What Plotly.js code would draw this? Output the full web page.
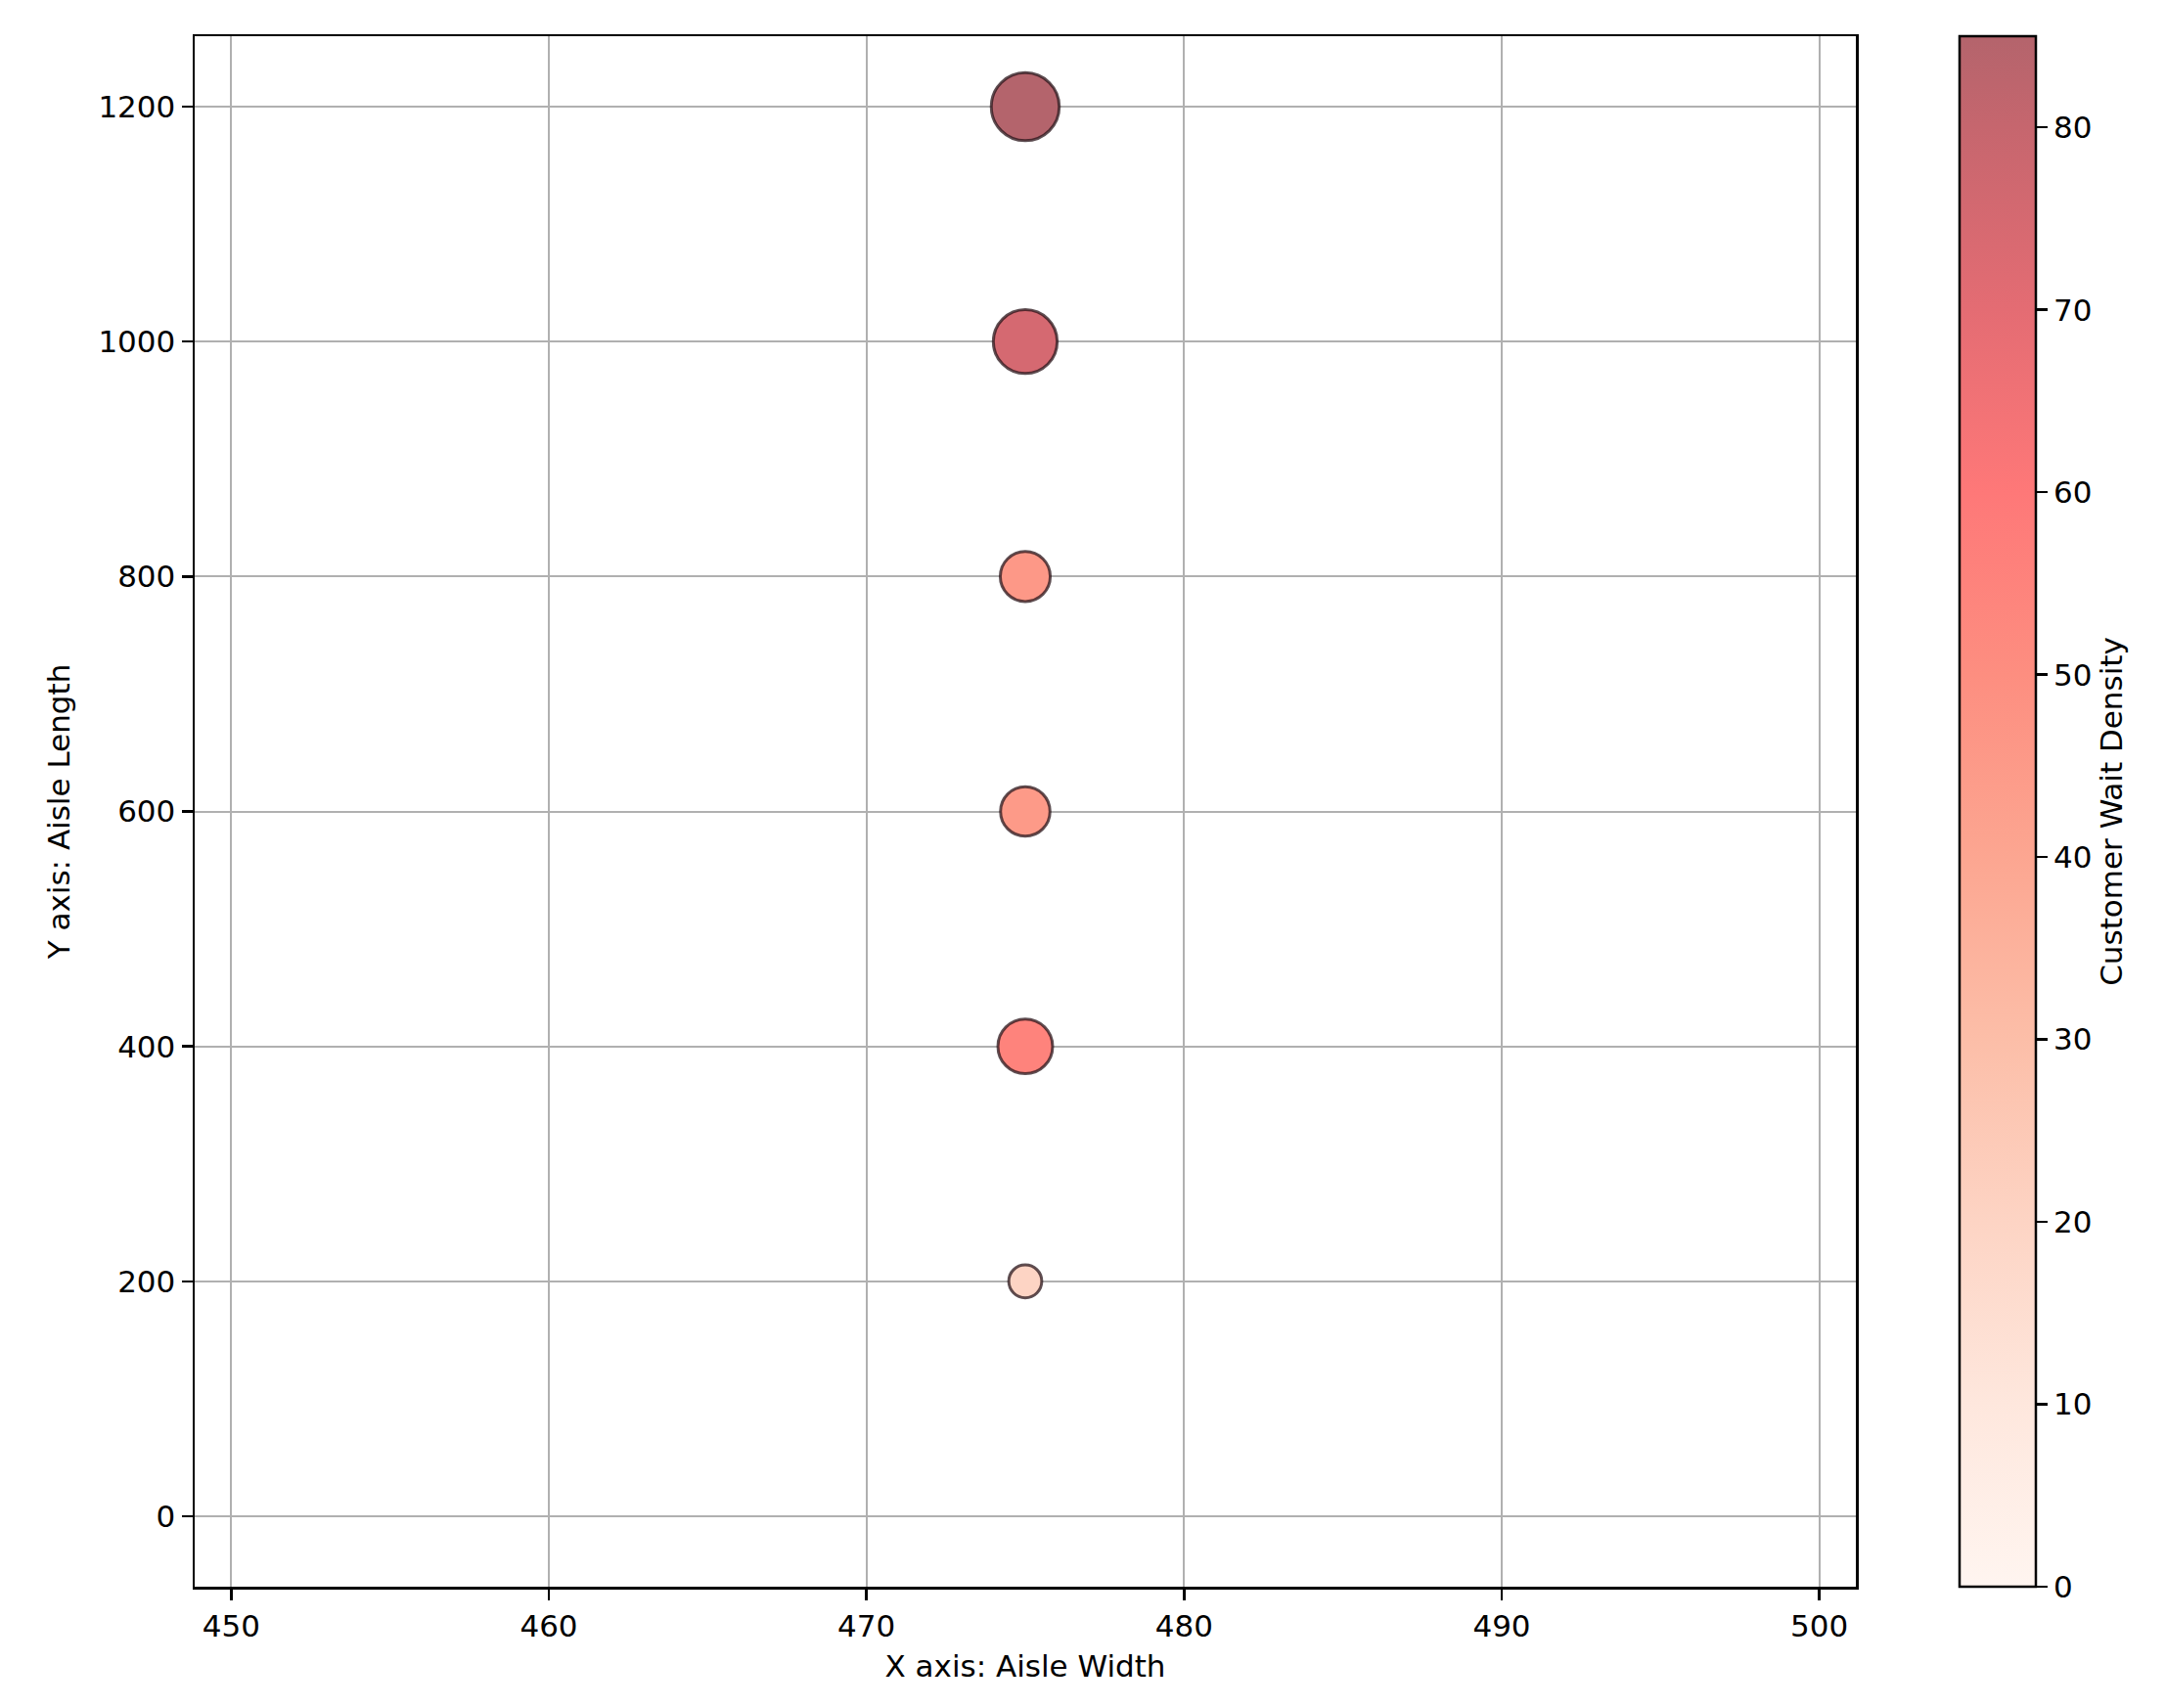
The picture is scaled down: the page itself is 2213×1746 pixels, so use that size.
<!DOCTYPE html>
<html>
<head>
<meta charset="utf-8">
<script src="https://cdn.plot.ly/plotly-3.0.1.min.js"></script>
<style>html,body{margin:0;padding:0;background:#fff;}#chart{width:2213px;height:1746px;}</style>
</head>
<body>
<div id="chart"></div>
<script>
// Data
const aisleWidth = [475, 475, 475, 475, 475, 475, 475];
const aisleLength = [0, 200, 400, 600, 800, 1000, 1200];
const waitDensity = [0, 20, 55, 45, 46, 75, 85];

const xTicks = [450, 460, 470, 480, 490, 500];
const yTicks = [0, 200, 400, 600, 800, 1000, 1200];
const cbTicks = [0, 10, 20, 30, 40, 50, 60, 70, 80];

const xTitle = 'X axis: Aisle Width';
const yTitle = 'Y axis: Aisle Length';
const cbTitle = 'Customer Wait Density';

// colour scale (as seen in the reference, with transparency already blended on white)
const colorScale = [
  [0.000, 'rgb(255,245,240)'],
  [0.118, 'rgb(254,231,221)'],
  [0.235, 'rgb(253,212,196)'],
  [0.353, 'rgb(252,190,168)'],
  [0.470, 'rgb(252,166,145)'],
  [0.588, 'rgb(253,142,128)'],
  [0.706, 'rgb(254,120,120)'],
  [0.824, 'rgb(228,108,115)'],
  [0.941, 'rgb(198,102,110)'],
  [1.000, 'rgb(180,100,108)']
];

const font = {family: 'DejaVu Sans, sans-serif', size: 31, color: '#000'};

const trace = {
  type: 'scatter',
  mode: 'markers',
  x: aisleWidth,
  y: aisleLength,
  marker: {
    size: waitDensity,
    sizemode: 'area',
    sizeref: 0.0352,
    sizemin: 0,
    color: waitDensity,
    colorscale: colorScale,
    cmin: 0,
    cmax: 85,
    opacity: 1,
    line: {color: 'rgba(40,20,25,0.75)', width: 3},
    showscale: true,
    colorbar: {
      x: 1.0625,
      xanchor: 'left',
      xpad: 0,
      y: 0.5,
      yanchor: 'middle',
      ypad: 0,
      len: 1,
      lenmode: 'fraction',
      thickness: 78,
      thicknessmode: 'pixels',
      outlinewidth: 2.5,
      outlinecolor: '#000',
      tickmode: 'array',
      tickvals: cbTicks,
      ticktext: cbTicks.map(String),
      ticks: 'outside',
      ticklen: 11,
      tickwidth: 2.5,
      tickcolor: '#000',
      tickfont: font,
      title: {text: cbTitle, side: 'right', font: font}
    }
  },
  hoverinfo: 'x+y'
};

const layout = {
  width: 2213,
  height: 1746,
  margin: {l: 199, r: 316, t: 37, b: 124, pad: 0},
  paper_bgcolor: '#fff',
  plot_bgcolor: '#fff',
  font: font,
  showlegend: false,
  xaxis: {
    range: [448.85, 501.15],
    tickmode: 'array',
    tickvals: xTicks,
    ticktext: xTicks.map(String),
    ticks: 'outside',
    ticklen: 11,
    tickwidth: 2.5,
    tickcolor: '#000',
    showgrid: true,
    gridcolor: '#b0b0b0',
    gridwidth: 2,
    zeroline: false,
    showline: true,
    linecolor: '#000',
    linewidth: 2.5,
    mirror: true,
    tickfont: font,
    title: {text: xTitle, font: font, standoff: 14}
  },
  yaxis: {
    range: [-60, 1260],
    tickmode: 'array',
    tickvals: yTicks,
    ticktext: yTicks.map(String),
    ticks: 'outside',
    ticklen: 11,
    tickwidth: 2.5,
    tickcolor: '#000',
    showgrid: true,
    gridcolor: '#b0b0b0',
    gridwidth: 2,
    zeroline: false,
    showline: true,
    linecolor: '#000',
    linewidth: 2.5,
    mirror: true,
    tickfont: font,
    title: {text: yTitle, font: font, standoff: 20}
  }
};

Plotly.newPlot('chart', [trace], layout, {displayModeBar: false, staticPlot: true});
</script>
</body>
</html>
